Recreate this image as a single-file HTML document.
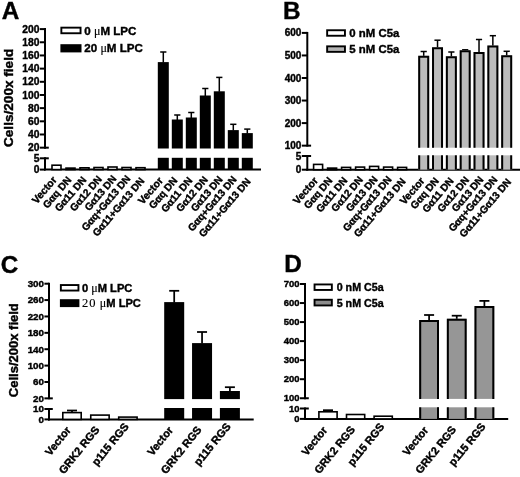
<!DOCTYPE html>
<html lang="en">
<head>
<meta charset="utf-8">
<title>Figure</title>
<style>
html,body{margin:0;padding:0;background:#fff;}
body{width:520px;height:477px;overflow:hidden;}
svg{display:block;}
svg text{font-family:"Liberation Sans", sans-serif;font-weight:bold;fill:#000;stroke:#000;stroke-width:0.4px;}
</style>
</head>
<body>
<svg width="520" height="477" viewBox="0 0 520 477">
<rect x="0" y="0" width="520" height="477" fill="#fff"/>
<g>
<text transform="translate(1.70 18.80)" font-size="24.3" text-anchor="start" stroke-width="0.5">A</text>
<line x1="45.00" y1="28.10" x2="45.00" y2="148.67" stroke="#000" stroke-width="2.0"/>
<line x1="39.80" y1="29.10" x2="45.00" y2="29.10" stroke="#000" stroke-width="2.0"/>
<text transform="translate(39.40 32.65)" font-size="10.3" text-anchor="end">200</text>
<line x1="39.80" y1="42.27" x2="45.00" y2="42.27" stroke="#000" stroke-width="2.0"/>
<text transform="translate(39.40 45.82)" font-size="10.3" text-anchor="end">180</text>
<line x1="39.80" y1="55.45" x2="45.00" y2="55.45" stroke="#000" stroke-width="2.0"/>
<text transform="translate(39.40 59.00)" font-size="10.3" text-anchor="end">160</text>
<line x1="39.80" y1="68.62" x2="45.00" y2="68.62" stroke="#000" stroke-width="2.0"/>
<text transform="translate(39.40 72.17)" font-size="10.3" text-anchor="end">140</text>
<line x1="39.80" y1="81.80" x2="45.00" y2="81.80" stroke="#000" stroke-width="2.0"/>
<text transform="translate(39.40 85.35)" font-size="10.3" text-anchor="end">120</text>
<line x1="39.80" y1="94.97" x2="45.00" y2="94.97" stroke="#000" stroke-width="2.0"/>
<text transform="translate(39.40 98.52)" font-size="10.3" text-anchor="end">100</text>
<line x1="39.80" y1="108.14" x2="45.00" y2="108.14" stroke="#000" stroke-width="2.0"/>
<text transform="translate(39.40 111.69)" font-size="10.3" text-anchor="end">80</text>
<line x1="39.80" y1="121.32" x2="45.00" y2="121.32" stroke="#000" stroke-width="2.0"/>
<text transform="translate(39.40 124.87)" font-size="10.3" text-anchor="end">60</text>
<line x1="39.80" y1="134.49" x2="45.00" y2="134.49" stroke="#000" stroke-width="2.0"/>
<text transform="translate(39.40 138.04)" font-size="10.3" text-anchor="end">40</text>
<line x1="39.80" y1="147.67" x2="45.00" y2="147.67" stroke="#000" stroke-width="2.0"/>
<text transform="translate(39.40 151.22)" font-size="10.3" text-anchor="end">20</text>
<line x1="45.00" y1="147.67" x2="48.80" y2="147.67" stroke="#000" stroke-width="2.0"/>
<line x1="45.00" y1="157.30" x2="45.00" y2="170.60" stroke="#000" stroke-width="2.0"/>
<line x1="39.80" y1="158.30" x2="45.00" y2="158.30" stroke="#000" stroke-width="2.0"/>
<text transform="translate(39.40 161.85)" font-size="10.3" text-anchor="end">5</text>
<line x1="39.80" y1="169.60" x2="45.00" y2="169.60" stroke="#000" stroke-width="2.0"/>
<text transform="translate(39.40 173.15)" font-size="10.3" text-anchor="end">0</text>
<line x1="45.00" y1="158.30" x2="48.80" y2="158.30" stroke="#000" stroke-width="2.0"/>
<line x1="44.00" y1="169.60" x2="261.00" y2="169.60" stroke="#000" stroke-width="2.0"/>
<text transform="translate(12.60 97.90) rotate(-90)" font-size="13.6" text-anchor="middle">Cells/200x field</text>
<rect x="61.35" y="27.65" width="19.20" height="5.60" fill="#fff" stroke="#000" stroke-width="1.9"/>
<text transform="translate(84.30 34.50)" font-size="11.6" text-anchor="start">0 <tspan font-family='"Liberation Serif", serif' font-weight="normal" font-size="12" stroke-width="0.15">μ</tspan>M LPC</text>
<rect x="61.35" y="45.15" width="19.20" height="6.30" fill="#000" stroke="#000" stroke-width="1.9"/>
<text transform="translate(84.30 52.30)" font-size="11.6" text-anchor="start">20 <tspan font-family='"Liberation Serif", serif' font-weight="normal" font-size="12" stroke-width="0.15">μ</tspan>M LPC</text>
<rect x="52.00" y="165.20" width="9.00" height="4.40" fill="#fff" stroke="#000" stroke-width="1.6"/>
<rect x="66.00" y="168.10" width="9.00" height="1.50" fill="#fff" stroke="#000" stroke-width="1.6"/>
<rect x="80.00" y="167.80" width="9.00" height="1.80" fill="#fff" stroke="#000" stroke-width="1.6"/>
<rect x="94.00" y="167.50" width="9.00" height="2.10" fill="#fff" stroke="#000" stroke-width="1.6"/>
<rect x="108.00" y="167.00" width="9.00" height="2.60" fill="#fff" stroke="#000" stroke-width="1.6"/>
<rect x="122.00" y="167.50" width="9.00" height="2.10" fill="#fff" stroke="#000" stroke-width="1.6"/>
<rect x="136.00" y="167.70" width="9.00" height="1.90" fill="#fff" stroke="#000" stroke-width="1.6"/>
<line x1="163.30" y1="52.00" x2="163.30" y2="62.60" stroke="#000" stroke-width="1.5"/>
<line x1="160.20" y1="52.00" x2="166.40" y2="52.00" stroke="#000" stroke-width="1.5"/>
<rect x="157.80" y="62.10" width="11.00" height="86.40" fill="#000"/>
<rect x="157.80" y="157.80" width="11.00" height="11.80" fill="#000"/>
<line x1="177.30" y1="115.00" x2="177.30" y2="120.00" stroke="#000" stroke-width="1.5"/>
<line x1="174.20" y1="115.00" x2="180.40" y2="115.00" stroke="#000" stroke-width="1.5"/>
<rect x="171.80" y="119.50" width="11.00" height="29.00" fill="#000"/>
<rect x="171.80" y="157.80" width="11.00" height="11.80" fill="#000"/>
<line x1="191.30" y1="112.50" x2="191.30" y2="118.00" stroke="#000" stroke-width="1.5"/>
<line x1="188.20" y1="112.50" x2="194.40" y2="112.50" stroke="#000" stroke-width="1.5"/>
<rect x="185.80" y="117.50" width="11.00" height="31.00" fill="#000"/>
<rect x="185.80" y="157.80" width="11.00" height="11.80" fill="#000"/>
<line x1="205.30" y1="88.50" x2="205.30" y2="96.00" stroke="#000" stroke-width="1.5"/>
<line x1="202.20" y1="88.50" x2="208.40" y2="88.50" stroke="#000" stroke-width="1.5"/>
<rect x="199.80" y="95.50" width="11.00" height="53.00" fill="#000"/>
<rect x="199.80" y="157.80" width="11.00" height="11.80" fill="#000"/>
<line x1="219.30" y1="77.40" x2="219.30" y2="91.80" stroke="#000" stroke-width="1.5"/>
<line x1="216.20" y1="77.40" x2="222.40" y2="77.40" stroke="#000" stroke-width="1.5"/>
<rect x="213.80" y="91.30" width="11.00" height="57.20" fill="#000"/>
<rect x="213.80" y="157.80" width="11.00" height="11.80" fill="#000"/>
<line x1="233.30" y1="124.30" x2="233.30" y2="130.60" stroke="#000" stroke-width="1.5"/>
<line x1="230.20" y1="124.30" x2="236.40" y2="124.30" stroke="#000" stroke-width="1.5"/>
<rect x="227.80" y="130.10" width="11.00" height="18.40" fill="#000"/>
<rect x="227.80" y="157.80" width="11.00" height="11.80" fill="#000"/>
<line x1="247.30" y1="129.10" x2="247.30" y2="133.60" stroke="#000" stroke-width="1.5"/>
<line x1="244.20" y1="129.10" x2="250.40" y2="129.10" stroke="#000" stroke-width="1.5"/>
<rect x="241.80" y="133.10" width="11.00" height="15.40" fill="#000"/>
<rect x="241.80" y="157.80" width="11.00" height="11.80" fill="#000"/>
<text transform="translate(57.40 180.20) rotate(-49.5)" font-size="10.454500000000001" text-anchor="end">Vector</text>
<text transform="translate(71.90 180.20) rotate(-49.5)" font-size="10.15" text-anchor="end">Gαq DN</text>
<text transform="translate(86.90 180.20) rotate(-49.5)" font-size="10.15" text-anchor="end">Gα11 DN</text>
<text transform="translate(102.40 179.40) rotate(-49.5)" font-size="10.15" text-anchor="end">Gα12 DN</text>
<text transform="translate(117.00 179.00) rotate(-49.5)" font-size="10.15" text-anchor="end">Gα13 DN</text>
<text transform="translate(131.00 179.00) rotate(-49.5)" font-size="10.15" text-anchor="end">Gαq+Gα13 DN</text>
<text transform="translate(145.00 181.20) rotate(-49.5)" font-size="10.15" text-anchor="end">Gα11+Gα13 DN</text>
<text transform="translate(163.60 180.80) rotate(-49.5)" font-size="10.454500000000001" text-anchor="end">Vector</text>
<text transform="translate(178.10 180.80) rotate(-49.5)" font-size="10.15" text-anchor="end">Gαq DN</text>
<text transform="translate(193.10 180.80) rotate(-49.5)" font-size="10.15" text-anchor="end">Gα11 DN</text>
<text transform="translate(208.60 180.00) rotate(-49.5)" font-size="10.15" text-anchor="end">Gα12 DN</text>
<text transform="translate(223.20 179.60) rotate(-49.5)" font-size="10.15" text-anchor="end">Gα13 DN</text>
<text transform="translate(237.20 179.60) rotate(-49.5)" font-size="10.15" text-anchor="end">Gαq+Gα13 DN</text>
<text transform="translate(251.20 181.80) rotate(-49.5)" font-size="10.15" text-anchor="end">Gα11+Gα13 DN</text>
</g>
<g>
<text transform="translate(282.90 19.10)" font-size="24.3" text-anchor="start" stroke-width="0.5">B</text>
<line x1="307.30" y1="31.90" x2="307.30" y2="146.65" stroke="#000" stroke-width="2.0"/>
<line x1="301.80" y1="32.90" x2="307.30" y2="32.90" stroke="#000" stroke-width="2.0"/>
<text transform="translate(301.40 36.45)" font-size="10" text-anchor="end">600</text>
<line x1="301.80" y1="55.45" x2="307.30" y2="55.45" stroke="#000" stroke-width="2.0"/>
<text transform="translate(301.40 59.00)" font-size="10" text-anchor="end">500</text>
<line x1="301.80" y1="78.00" x2="307.30" y2="78.00" stroke="#000" stroke-width="2.0"/>
<text transform="translate(301.40 81.55)" font-size="10" text-anchor="end">400</text>
<line x1="301.80" y1="100.55" x2="307.30" y2="100.55" stroke="#000" stroke-width="2.0"/>
<text transform="translate(301.40 104.10)" font-size="10" text-anchor="end">300</text>
<line x1="301.80" y1="123.10" x2="307.30" y2="123.10" stroke="#000" stroke-width="2.0"/>
<text transform="translate(301.40 126.65)" font-size="10" text-anchor="end">200</text>
<line x1="301.80" y1="145.65" x2="307.30" y2="145.65" stroke="#000" stroke-width="2.0"/>
<text transform="translate(301.40 149.20)" font-size="10" text-anchor="end">100</text>
<line x1="307.30" y1="145.65" x2="311.10" y2="145.65" stroke="#000" stroke-width="2.0"/>
<line x1="307.30" y1="155.00" x2="307.30" y2="170.70" stroke="#000" stroke-width="2.0"/>
<line x1="301.80" y1="156.00" x2="307.30" y2="156.00" stroke="#000" stroke-width="2.0"/>
<text transform="translate(301.40 159.55)" font-size="10" text-anchor="end">5</text>
<line x1="301.80" y1="169.70" x2="307.30" y2="169.70" stroke="#000" stroke-width="2.0"/>
<text transform="translate(301.40 173.25)" font-size="10" text-anchor="end">0</text>
<line x1="307.30" y1="156.00" x2="311.10" y2="156.00" stroke="#000" stroke-width="2.0"/>
<line x1="306.30" y1="169.70" x2="520.00" y2="169.70" stroke="#000" stroke-width="2.0"/>
<rect x="327.15" y="30.25" width="17.80" height="5.50" fill="#fff" stroke="#000" stroke-width="1.9"/>
<text transform="translate(349.30 36.60)" font-size="11.4" text-anchor="start">0 nM C5a</text>
<rect x="327.15" y="46.35" width="17.80" height="5.50" fill="#b4b4b4" stroke="#000" stroke-width="1.9"/>
<text transform="translate(349.30 52.70)" font-size="11.4" text-anchor="start">5 nM C5a</text>
<rect x="313.60" y="164.40" width="9.00" height="5.30" fill="#fff" stroke="#000" stroke-width="1.6"/>
<rect x="327.60" y="168.10" width="9.00" height="1.60" fill="#fff" stroke="#000" stroke-width="1.6"/>
<rect x="341.60" y="167.40" width="9.00" height="2.30" fill="#fff" stroke="#000" stroke-width="1.6"/>
<rect x="355.60" y="167.10" width="9.00" height="2.60" fill="#fff" stroke="#000" stroke-width="1.6"/>
<rect x="369.60" y="166.40" width="9.00" height="3.30" fill="#fff" stroke="#000" stroke-width="1.6"/>
<rect x="383.60" y="167.10" width="9.00" height="2.60" fill="#fff" stroke="#000" stroke-width="1.6"/>
<rect x="397.60" y="167.40" width="9.00" height="2.30" fill="#fff" stroke="#000" stroke-width="1.6"/>
<line x1="423.70" y1="51.50" x2="423.70" y2="56.30" stroke="#000" stroke-width="1.5"/>
<line x1="420.60" y1="51.50" x2="426.80" y2="51.50" stroke="#000" stroke-width="1.5"/>
<rect x="418.20" y="55.80" width="11.00" height="91.90" fill="#bcbcbc"/>
<path d="M419.20 147.70 V56.80 H428.20 V147.70" fill="none" stroke="#000" stroke-width="2.0"/>
<rect x="418.20" y="155.30" width="11.00" height="14.40" fill="#bcbcbc"/>
<line x1="419.20" y1="155.30" x2="419.20" y2="169.70" stroke="#000" stroke-width="2.0"/>
<line x1="428.20" y1="155.30" x2="428.20" y2="169.70" stroke="#000" stroke-width="2.0"/>
<line x1="437.53" y1="40.20" x2="437.53" y2="47.80" stroke="#000" stroke-width="1.5"/>
<line x1="434.43" y1="40.20" x2="440.63" y2="40.20" stroke="#000" stroke-width="1.5"/>
<rect x="432.03" y="47.30" width="11.00" height="100.40" fill="#bcbcbc"/>
<path d="M433.03 147.70 V48.30 H442.03 V147.70" fill="none" stroke="#000" stroke-width="2.0"/>
<rect x="432.03" y="155.30" width="11.00" height="14.40" fill="#bcbcbc"/>
<line x1="433.03" y1="155.30" x2="433.03" y2="169.70" stroke="#000" stroke-width="2.0"/>
<line x1="442.03" y1="155.30" x2="442.03" y2="169.70" stroke="#000" stroke-width="2.0"/>
<line x1="451.36" y1="52.00" x2="451.36" y2="56.80" stroke="#000" stroke-width="1.5"/>
<line x1="448.26" y1="52.00" x2="454.46" y2="52.00" stroke="#000" stroke-width="1.5"/>
<rect x="445.86" y="56.30" width="11.00" height="91.40" fill="#bcbcbc"/>
<path d="M446.86 147.70 V57.30 H455.86 V147.70" fill="none" stroke="#000" stroke-width="2.0"/>
<rect x="445.86" y="155.30" width="11.00" height="14.40" fill="#bcbcbc"/>
<line x1="446.86" y1="155.30" x2="446.86" y2="169.70" stroke="#000" stroke-width="2.0"/>
<line x1="455.86" y1="155.30" x2="455.86" y2="169.70" stroke="#000" stroke-width="2.0"/>
<line x1="465.19" y1="49.80" x2="465.19" y2="50.80" stroke="#000" stroke-width="1.5"/>
<line x1="462.09" y1="49.80" x2="468.29" y2="49.80" stroke="#000" stroke-width="1.5"/>
<rect x="459.69" y="50.30" width="11.00" height="97.40" fill="#bcbcbc"/>
<path d="M460.69 147.70 V51.30 H469.69 V147.70" fill="none" stroke="#000" stroke-width="2.0"/>
<rect x="459.69" y="155.30" width="11.00" height="14.40" fill="#bcbcbc"/>
<line x1="460.69" y1="155.30" x2="460.69" y2="169.70" stroke="#000" stroke-width="2.0"/>
<line x1="469.69" y1="155.30" x2="469.69" y2="169.70" stroke="#000" stroke-width="2.0"/>
<line x1="479.02" y1="39.50" x2="479.02" y2="52.50" stroke="#000" stroke-width="1.5"/>
<line x1="475.92" y1="39.50" x2="482.12" y2="39.50" stroke="#000" stroke-width="1.5"/>
<rect x="473.52" y="52.00" width="11.00" height="95.70" fill="#bcbcbc"/>
<path d="M474.52 147.70 V53.00 H483.52 V147.70" fill="none" stroke="#000" stroke-width="2.0"/>
<rect x="473.52" y="155.30" width="11.00" height="14.40" fill="#bcbcbc"/>
<line x1="474.52" y1="155.30" x2="474.52" y2="169.70" stroke="#000" stroke-width="2.0"/>
<line x1="483.52" y1="155.30" x2="483.52" y2="169.70" stroke="#000" stroke-width="2.0"/>
<line x1="492.85" y1="35.70" x2="492.85" y2="46.00" stroke="#000" stroke-width="1.5"/>
<line x1="489.75" y1="35.70" x2="495.95" y2="35.70" stroke="#000" stroke-width="1.5"/>
<rect x="487.35" y="45.50" width="11.00" height="102.20" fill="#bcbcbc"/>
<path d="M488.35 147.70 V46.50 H497.35 V147.70" fill="none" stroke="#000" stroke-width="2.0"/>
<rect x="487.35" y="155.30" width="11.00" height="14.40" fill="#bcbcbc"/>
<line x1="488.35" y1="155.30" x2="488.35" y2="169.70" stroke="#000" stroke-width="2.0"/>
<line x1="497.35" y1="155.30" x2="497.35" y2="169.70" stroke="#000" stroke-width="2.0"/>
<line x1="506.68" y1="51.30" x2="506.68" y2="55.80" stroke="#000" stroke-width="1.5"/>
<line x1="503.58" y1="51.30" x2="509.78" y2="51.30" stroke="#000" stroke-width="1.5"/>
<rect x="501.18" y="55.30" width="11.00" height="92.40" fill="#bcbcbc"/>
<path d="M502.18 147.70 V56.30 H511.18 V147.70" fill="none" stroke="#000" stroke-width="2.0"/>
<rect x="501.18" y="155.30" width="11.00" height="14.40" fill="#bcbcbc"/>
<line x1="502.18" y1="155.30" x2="502.18" y2="169.70" stroke="#000" stroke-width="2.0"/>
<line x1="511.18" y1="155.30" x2="511.18" y2="169.70" stroke="#000" stroke-width="2.0"/>
<text transform="translate(318.60 180.80) rotate(-49.5)" font-size="10.454500000000001" text-anchor="end">Vector</text>
<text transform="translate(333.10 180.80) rotate(-49.5)" font-size="10.15" text-anchor="end">Gαq DN</text>
<text transform="translate(348.10 180.80) rotate(-49.5)" font-size="10.15" text-anchor="end">Gα11 DN</text>
<text transform="translate(363.60 180.00) rotate(-49.5)" font-size="10.15" text-anchor="end">Gα12 DN</text>
<text transform="translate(378.20 179.60) rotate(-49.5)" font-size="10.15" text-anchor="end">Gα13 DN</text>
<text transform="translate(392.20 179.60) rotate(-49.5)" font-size="10.15" text-anchor="end">Gαq+Gα13 DN</text>
<text transform="translate(406.20 181.80) rotate(-49.5)" font-size="10.15" text-anchor="end">Gα11+Gα13 DN</text>
<text transform="translate(425.20 181.10) rotate(-49.5)" font-size="10.454500000000001" text-anchor="end">Vector</text>
<text transform="translate(439.53 181.10) rotate(-49.5)" font-size="10.15" text-anchor="end">Gαq DN</text>
<text transform="translate(454.36 181.10) rotate(-49.5)" font-size="10.15" text-anchor="end">Gα11 DN</text>
<text transform="translate(469.69 180.30) rotate(-49.5)" font-size="10.15" text-anchor="end">Gα12 DN</text>
<text transform="translate(484.12 179.90) rotate(-49.5)" font-size="10.15" text-anchor="end">Gα13 DN</text>
<text transform="translate(497.95 179.90) rotate(-49.5)" font-size="10.15" text-anchor="end">Gαq+Gα13 DN</text>
<text transform="translate(511.78 182.10) rotate(-49.5)" font-size="10.15" text-anchor="end">Gα11+Gα13 DN</text>
</g>
<g>
<text transform="translate(0.80 273.30)" font-size="24.3" text-anchor="start" stroke-width="0.5">C</text>
<line x1="49.00" y1="282.70" x2="49.00" y2="399.36" stroke="#000" stroke-width="2.0"/>
<line x1="44.40" y1="283.70" x2="49.00" y2="283.70" stroke="#000" stroke-width="2.0"/>
<text transform="translate(44.00 287.05)" font-size="9.8" text-anchor="end">300</text>
<line x1="44.40" y1="300.08" x2="49.00" y2="300.08" stroke="#000" stroke-width="2.0"/>
<text transform="translate(44.00 303.43)" font-size="9.8" text-anchor="end">260</text>
<line x1="44.40" y1="316.46" x2="49.00" y2="316.46" stroke="#000" stroke-width="2.0"/>
<text transform="translate(44.00 319.81)" font-size="9.8" text-anchor="end">220</text>
<line x1="44.40" y1="332.84" x2="49.00" y2="332.84" stroke="#000" stroke-width="2.0"/>
<text transform="translate(44.00 336.19)" font-size="9.8" text-anchor="end">180</text>
<line x1="44.40" y1="349.22" x2="49.00" y2="349.22" stroke="#000" stroke-width="2.0"/>
<text transform="translate(44.00 352.57)" font-size="9.8" text-anchor="end">140</text>
<line x1="44.40" y1="365.60" x2="49.00" y2="365.60" stroke="#000" stroke-width="2.0"/>
<text transform="translate(44.00 368.95)" font-size="9.8" text-anchor="end">100</text>
<line x1="44.40" y1="381.98" x2="49.00" y2="381.98" stroke="#000" stroke-width="2.0"/>
<text transform="translate(44.00 385.33)" font-size="9.8" text-anchor="end">60</text>
<line x1="44.40" y1="398.36" x2="49.00" y2="398.36" stroke="#000" stroke-width="2.0"/>
<text transform="translate(44.00 401.71)" font-size="9.8" text-anchor="end">20</text>
<line x1="49.00" y1="398.36" x2="52.80" y2="398.36" stroke="#000" stroke-width="2.0"/>
<line x1="49.00" y1="408.00" x2="49.00" y2="420.40" stroke="#000" stroke-width="2.0"/>
<line x1="44.40" y1="409.00" x2="49.00" y2="409.00" stroke="#000" stroke-width="2.0"/>
<text transform="translate(44.00 412.35)" font-size="9.8" text-anchor="end">10</text>
<line x1="44.40" y1="419.40" x2="49.00" y2="419.40" stroke="#000" stroke-width="2.0"/>
<text transform="translate(44.00 422.75)" font-size="9.8" text-anchor="end">0</text>
<line x1="49.00" y1="409.00" x2="52.80" y2="409.00" stroke="#000" stroke-width="2.0"/>
<line x1="48.00" y1="419.40" x2="253.70" y2="419.40" stroke="#000" stroke-width="2.0"/>
<text transform="translate(18.30 350.20) rotate(-90)" font-size="13.0" text-anchor="middle">Cells/200x field</text>
<rect x="60.85" y="285.05" width="17.60" height="5.50" fill="#fff" stroke="#000" stroke-width="1.9"/>
<text transform="translate(82.00 291.70)" font-size="11.15" text-anchor="start">0 <tspan font-family='"Liberation Serif", serif' font-weight="normal" font-size="12" stroke-width="0.15">μ</tspan>M LPC</text>
<rect x="60.85" y="300.15" width="17.60" height="6.00" fill="#000" stroke="#000" stroke-width="1.9"/>
<text transform="translate(82.00 306.50)" font-size="11.15" text-anchor="start"><tspan font-family='"Liberation Serif", serif' font-weight="normal" font-size="12.5" letter-spacing="1.1" stroke-width="0.15">20</tspan> <tspan font-family='"Liberation Serif", serif' font-weight="normal" font-size="12" stroke-width="0.15">μ</tspan>M LPC</text>
<line x1="72.00" y1="410.50" x2="72.00" y2="412.30" stroke="#000" stroke-width="1.75"/>
<line x1="67.00" y1="410.50" x2="77.00" y2="410.50" stroke="#000" stroke-width="1.75"/>
<rect x="62.80" y="412.60" width="18.40" height="6.80" fill="#fff" stroke="#000" stroke-width="1.6"/>
<rect x="90.75" y="415.10" width="18.40" height="4.30" fill="#fff" stroke="#000" stroke-width="1.6"/>
<rect x="118.70" y="417.10" width="18.40" height="2.30" fill="#fff" stroke="#000" stroke-width="1.6"/>
<line x1="174.20" y1="290.80" x2="174.20" y2="302.60" stroke="#000" stroke-width="1.75"/>
<line x1="169.20" y1="290.80" x2="179.20" y2="290.80" stroke="#000" stroke-width="1.75"/>
<rect x="164.20" y="302.10" width="20.00" height="97.00" fill="#000"/>
<rect x="164.20" y="408.00" width="20.00" height="11.40" fill="#000"/>
<line x1="202.05" y1="332.00" x2="202.05" y2="343.60" stroke="#000" stroke-width="1.75"/>
<line x1="197.05" y1="332.00" x2="207.05" y2="332.00" stroke="#000" stroke-width="1.75"/>
<rect x="192.05" y="343.10" width="20.00" height="56.00" fill="#000"/>
<rect x="192.05" y="408.00" width="20.00" height="11.40" fill="#000"/>
<line x1="229.90" y1="387.20" x2="229.90" y2="391.50" stroke="#000" stroke-width="1.75"/>
<line x1="224.90" y1="387.20" x2="234.90" y2="387.20" stroke="#000" stroke-width="1.75"/>
<rect x="219.90" y="391.00" width="20.00" height="8.10" fill="#000"/>
<rect x="219.90" y="408.00" width="20.00" height="11.40" fill="#000"/>
<text transform="translate(71.40 430.30) rotate(-51)" font-size="11.0" text-anchor="end">Vector</text>
<text transform="translate(100.10 430.00) rotate(-51)" font-size="11.0" text-anchor="end">GRK2 RGS</text>
<text transform="translate(129.35 426.70) rotate(-51)" font-size="11.0" text-anchor="end">p115 RGS</text>
<text transform="translate(173.60 430.30) rotate(-51)" font-size="11.0" text-anchor="end">Vector</text>
<text transform="translate(202.20 430.00) rotate(-51)" font-size="11.0" text-anchor="end">GRK2 RGS</text>
<text transform="translate(231.35 426.70) rotate(-51)" font-size="11.0" text-anchor="end">p115 RGS</text>
</g>
<g>
<text transform="translate(284.20 272.10)" font-size="24.3" text-anchor="start" stroke-width="0.5">D</text>
<line x1="305.00" y1="283.00" x2="305.00" y2="399.24" stroke="#000" stroke-width="2.0"/>
<line x1="300.00" y1="284.00" x2="305.00" y2="284.00" stroke="#000" stroke-width="2.0"/>
<text transform="translate(299.60 287.05)" font-size="9.5" text-anchor="end">700</text>
<line x1="300.00" y1="303.04" x2="305.00" y2="303.04" stroke="#000" stroke-width="2.0"/>
<text transform="translate(299.60 306.09)" font-size="9.5" text-anchor="end">600</text>
<line x1="300.00" y1="322.08" x2="305.00" y2="322.08" stroke="#000" stroke-width="2.0"/>
<text transform="translate(299.60 325.13)" font-size="9.5" text-anchor="end">500</text>
<line x1="300.00" y1="341.12" x2="305.00" y2="341.12" stroke="#000" stroke-width="2.0"/>
<text transform="translate(299.60 344.17)" font-size="9.5" text-anchor="end">400</text>
<line x1="300.00" y1="360.16" x2="305.00" y2="360.16" stroke="#000" stroke-width="2.0"/>
<text transform="translate(299.60 363.21)" font-size="9.5" text-anchor="end">300</text>
<line x1="300.00" y1="379.20" x2="305.00" y2="379.20" stroke="#000" stroke-width="2.0"/>
<text transform="translate(299.60 382.25)" font-size="9.5" text-anchor="end">200</text>
<line x1="300.00" y1="398.24" x2="305.00" y2="398.24" stroke="#000" stroke-width="2.0"/>
<text transform="translate(299.60 401.29)" font-size="9.5" text-anchor="end">100</text>
<line x1="305.00" y1="398.24" x2="308.80" y2="398.24" stroke="#000" stroke-width="2.0"/>
<line x1="305.00" y1="407.50" x2="305.00" y2="419.90" stroke="#000" stroke-width="2.0"/>
<line x1="300.00" y1="408.50" x2="305.00" y2="408.50" stroke="#000" stroke-width="2.0"/>
<text transform="translate(299.60 411.55)" font-size="9.5" text-anchor="end">10</text>
<line x1="300.00" y1="418.90" x2="305.00" y2="418.90" stroke="#000" stroke-width="2.0"/>
<text transform="translate(299.60 421.95)" font-size="9.5" text-anchor="end">0</text>
<line x1="305.00" y1="408.50" x2="308.80" y2="408.50" stroke="#000" stroke-width="2.0"/>
<line x1="304.00" y1="418.90" x2="508.20" y2="418.90" stroke="#000" stroke-width="2.0"/>
<rect x="314.55" y="284.45" width="17.30" height="5.50" fill="#fff" stroke="#000" stroke-width="1.9"/>
<text transform="translate(336.70 291.10)" font-size="10.7" text-anchor="start">0 nM C5a</text>
<rect x="314.55" y="299.75" width="17.30" height="5.70" fill="#8c8c8c" stroke="#000" stroke-width="1.9"/>
<text transform="translate(336.70 306.50)" font-size="10.7" text-anchor="start">5 nM C5a</text>
<line x1="328.00" y1="410.20" x2="328.00" y2="411.50" stroke="#000" stroke-width="1.75"/>
<line x1="323.00" y1="410.20" x2="333.00" y2="410.20" stroke="#000" stroke-width="1.75"/>
<rect x="318.90" y="411.80" width="18.20" height="7.10" fill="#fff" stroke="#000" stroke-width="1.6"/>
<rect x="346.50" y="414.50" width="18.20" height="4.40" fill="#fff" stroke="#000" stroke-width="1.6"/>
<rect x="374.10" y="416.20" width="18.20" height="2.70" fill="#fff" stroke="#000" stroke-width="1.6"/>
<line x1="429.10" y1="315.00" x2="429.10" y2="320.50" stroke="#000" stroke-width="1.75"/>
<line x1="424.10" y1="315.00" x2="434.10" y2="315.00" stroke="#000" stroke-width="1.75"/>
<rect x="419.20" y="320.00" width="19.80" height="78.90" fill="#969696"/>
<path d="M420.20 398.90 V321.00 H438.00 V398.90" fill="none" stroke="#000" stroke-width="2.0"/>
<rect x="419.20" y="407.30" width="19.80" height="11.60" fill="#969696"/>
<line x1="420.20" y1="407.30" x2="420.20" y2="418.90" stroke="#000" stroke-width="2.0"/>
<line x1="438.00" y1="407.30" x2="438.00" y2="418.90" stroke="#000" stroke-width="2.0"/>
<line x1="456.75" y1="315.70" x2="456.75" y2="319.20" stroke="#000" stroke-width="1.75"/>
<line x1="451.75" y1="315.70" x2="461.75" y2="315.70" stroke="#000" stroke-width="1.75"/>
<rect x="446.85" y="318.70" width="19.80" height="80.20" fill="#969696"/>
<path d="M447.85 398.90 V319.70 H465.65 V398.90" fill="none" stroke="#000" stroke-width="2.0"/>
<rect x="446.85" y="407.30" width="19.80" height="11.60" fill="#969696"/>
<line x1="447.85" y1="407.30" x2="447.85" y2="418.90" stroke="#000" stroke-width="2.0"/>
<line x1="465.65" y1="407.30" x2="465.65" y2="418.90" stroke="#000" stroke-width="2.0"/>
<line x1="484.40" y1="300.90" x2="484.40" y2="306.60" stroke="#000" stroke-width="1.75"/>
<line x1="479.40" y1="300.90" x2="489.40" y2="300.90" stroke="#000" stroke-width="1.75"/>
<rect x="474.50" y="306.10" width="19.80" height="92.80" fill="#969696"/>
<path d="M475.50 398.90 V307.10 H493.30 V398.90" fill="none" stroke="#000" stroke-width="2.0"/>
<rect x="474.50" y="407.30" width="19.80" height="11.60" fill="#969696"/>
<line x1="475.50" y1="407.30" x2="475.50" y2="418.90" stroke="#000" stroke-width="2.0"/>
<line x1="493.30" y1="407.30" x2="493.30" y2="418.90" stroke="#000" stroke-width="2.0"/>
<text transform="translate(327.85 430.40) rotate(-51)" font-size="11.0" text-anchor="end">Vector</text>
<text transform="translate(355.60 429.80) rotate(-51)" font-size="11.0" text-anchor="end">GRK2 RGS</text>
<text transform="translate(384.95 426.90) rotate(-51)" font-size="11.0" text-anchor="end">p115 RGS</text>
<text transform="translate(428.95 430.40) rotate(-51)" font-size="11.0" text-anchor="end">Vector</text>
<text transform="translate(456.75 429.80) rotate(-51)" font-size="11.0" text-anchor="end">GRK2 RGS</text>
<text transform="translate(486.15 426.90) rotate(-51)" font-size="11.0" text-anchor="end">p115 RGS</text>
</g>
</svg>
</body>
</html>
